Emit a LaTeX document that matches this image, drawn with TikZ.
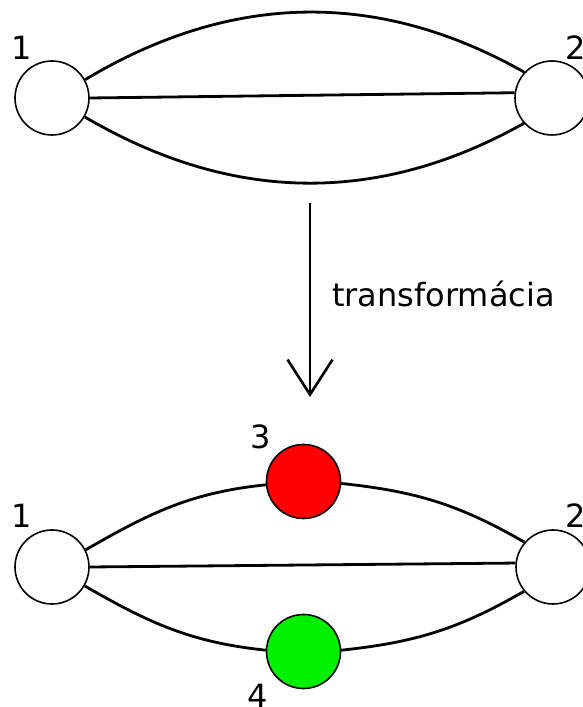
\documentclass[tikz,border=0pt]{standalone}
\usepackage{fontspec}
\setmainfont{DejaVu Sans}
\usetikzlibrary{arrows.meta}
\definecolor{nodered}{RGB}{255,0,0}
\definecolor{nodegreen}{RGB}{0,240,0}
\begin{document}
\begin{tikzpicture}[x=1pt,y=1pt,
  vertex/.style={circle,draw=black,line width=1.6pt,fill=white,minimum size=74pt,inner sep=0pt},
  edge/.style={line width=2.8pt,black},
  lbl/.style={font=\fontsize{32}{38}\selectfont,inner sep=0pt}]
\useasboundingbox (0,0) rectangle (582,707);
% top graph
\node[vertex] (a1) at (52,609) {};
\node[vertex] (a2) at (552,609) {};
\node[lbl] (la1) at (22,659) {1};
\node[lbl] (la2) at (576,659) {2};
\draw[edge] (a1.east) -- (a2.172);
\draw[edge] (a1.29) .. controls (231.7,715) and (378.3,717.3) .. (a2.137);
\draw[edge] (a1.-30) .. controls (231.7,503.7) and (378.3,502) .. (a2.222);
% arrow
\coordinate (as) at (310,504);
\coordinate (ae) at (310,310);
\draw[line width=2.6pt,-{Straight Barb[length=35pt,width=45pt]}] (as) -- (ae);
\node[lbl,anchor=base west] (tl) at (332,400) {transformácia};
% bottom graph
\node[vertex] (b1) at (52,140) {};
\node[vertex] (b2) at (553,140) {};
\node[vertex,fill=nodered] (b3) at (303.5,225.5) {};
\node[vertex,fill=nodegreen] (b4) at (303.5,55.5) {};
\node[lbl] (lb1) at (22,191) {1};
\node[lbl] (lb2) at (576,191) {2};
\node[lbl] (lb3) at (261,270) {3};
\node[lbl] (lb4) at (258,11) {4};
\draw[edge] (b1.east) -- (b2.174);
\draw[edge] (b1.27) to[out=30,in=186] (b3.185);
\draw[edge] (b3.-3) to[out=-6,in=150] (b2.139);
\draw[edge] (b1.-30) to[out=-30,in=174] (b4.178);
\draw[edge] (b4.2) to[out=6,in=210] (b2.220);
\end{tikzpicture}
\end{document}
